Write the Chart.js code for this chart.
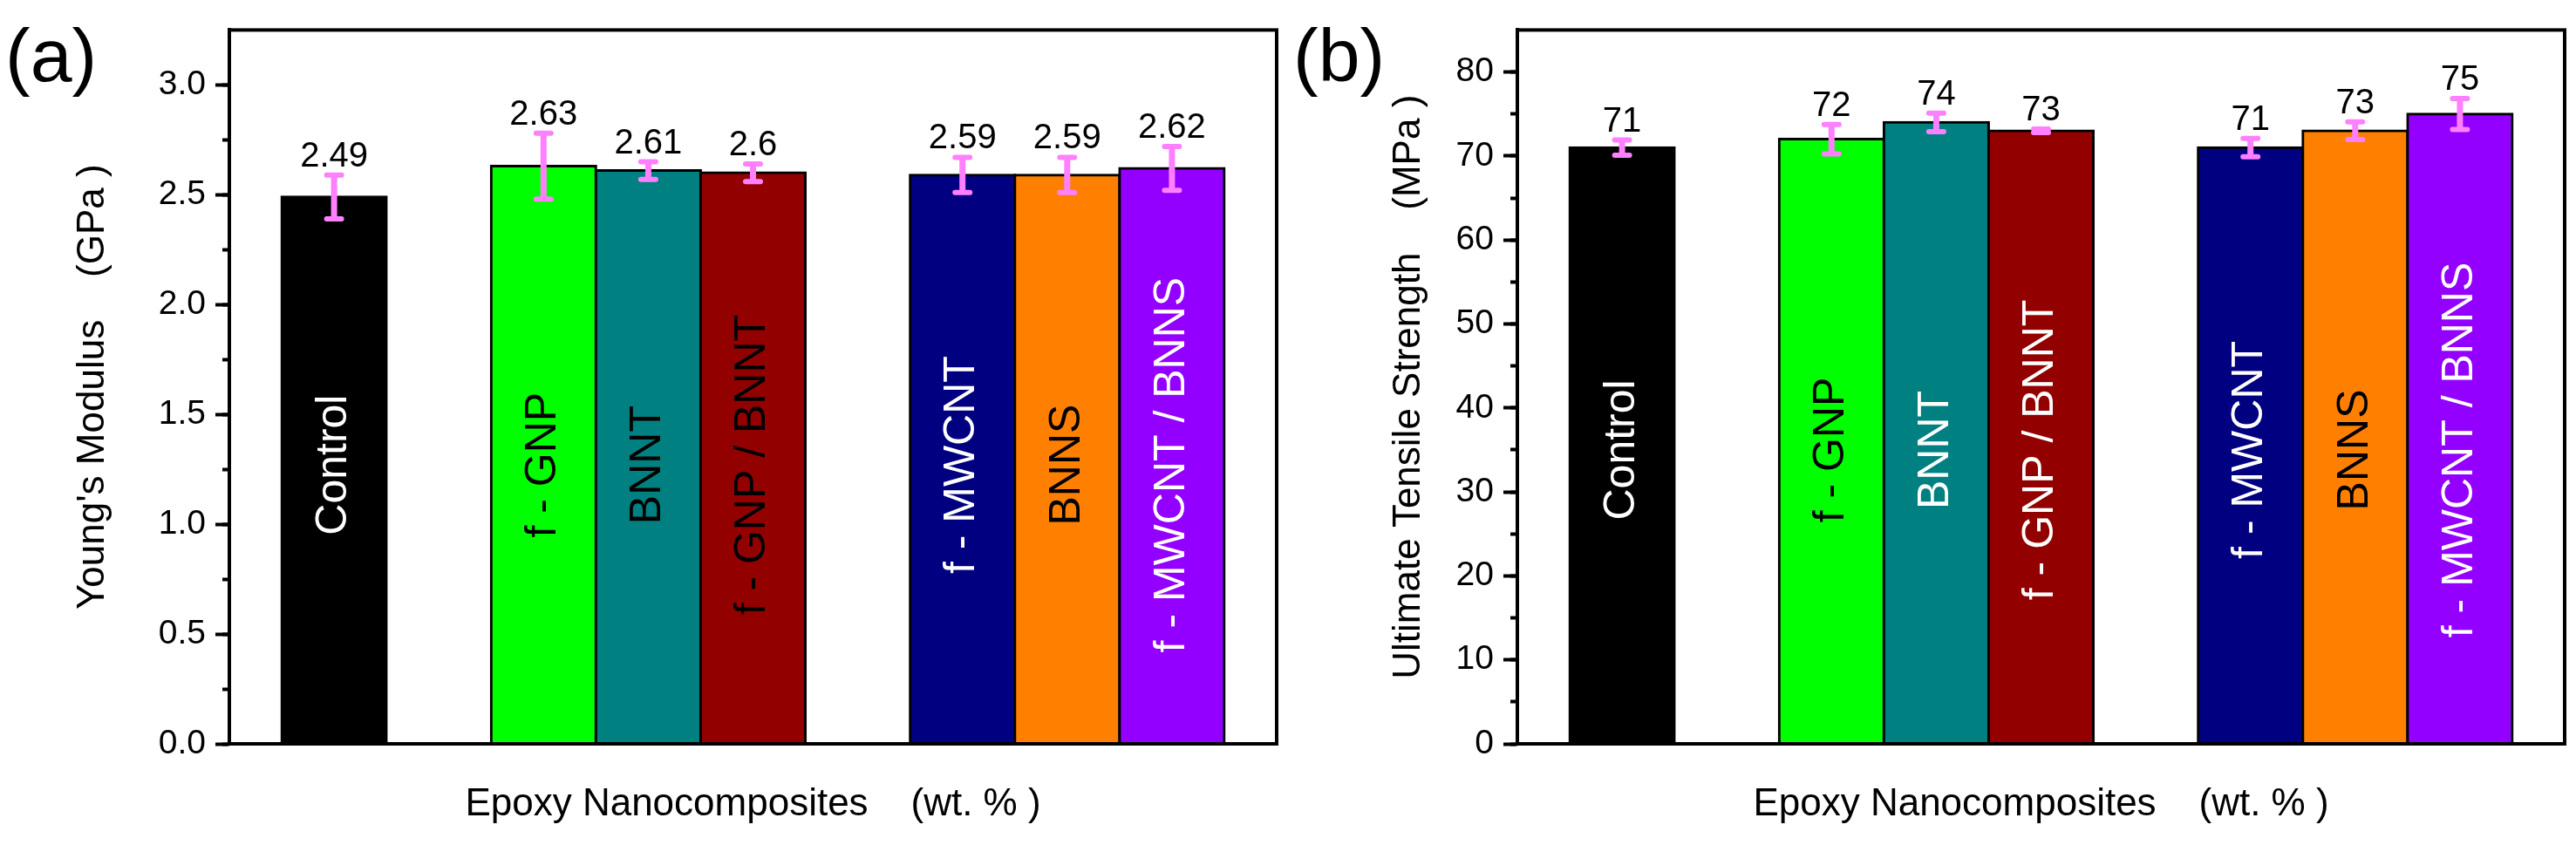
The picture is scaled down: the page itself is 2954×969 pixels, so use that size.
<!DOCTYPE html>
<html>
<head>
<meta charset="utf-8">
<title>Epoxy nanocomposites</title>
<script src="https://cdn.jsdelivr.net/npm/chart.js@4.4.1/dist/chart.umd.min.js"></script>
<style>
  html, body { margin: 0; padding: 0; background: #fff; }
  #wrap { display: flex; width: 2954px; height: 969px; }
  canvas { display: block; }
</style>
</head>
<body>
<div id="wrap">
  <canvas id="modulus" width="1477" height="969"></canvas>
  <canvas id="strength" width="1477" height="969"></canvas>
</div>
<script>
const FONT = 'Arial, "Liberation Sans", sans-serif';

// x slots, '' = empty gap between the groups
const slotLabels = ['', 'Control', '', 'f - GNP', 'BNNT', 'f - GNP / BNNT', '', 'f - MWCNT', 'BNNS', 'f - MWCNT / BNNS', ''];
const barColors = ['#000000', '#00ff00', '#008080', '#930000', '#000080', '#ff8000', '#9300ff'];

// (a) Young's modulus, GPa
const modulus = [2.49, 2.63, 2.61, 2.60, 2.59, 2.59, 2.62];
const modulusErr = [0.10, 0.15, 0.04, 0.04, 0.08, 0.08, 0.10];
const modulusTicks = ['0.0', '0.5', '1.0', '1.5', '2.0', '2.5', '3.0'];
const modulusText = ['#fff', '#000', '#000', '#000', '#fff', '#000', '#fff'];

// (b) ultimate tensile strength, MPa
const strength = [71, 72, 74, 73, 71, 73, 75];
const strengthErr = [0.9, 1.75, 1.1, 0.2, 1.1, 1.05, 1.85];
const strengthTicks = ['0', '10', '20', '30', '40', '50', '60', '70', '80'];
const strengthText = ['#fff', '#000', '#fff', '#fff', '#fff', '#000', '#fff'];

function toSlots(arr) {
  let k = 0;
  return slotLabels.map(s => (s === '' ? null : arr[k++]));
}

function makeDecor(cfg) {
  return {
    id: 'decor' + cfg.panel,
    afterDatasetsDraw(chart) {
      const { ctx, chartArea } = chart;
      const y = chart.scales.y;
      const bars = chart.getDatasetMeta(0).data;
      const vals = toSlots(cfg.values);
      const errs = toSlots(cfg.errors);
      const cols = toSlots(cfg.textColors);

      ctx.save();
      vals.forEach((v, i) => {
        if (v === null) return;
        const x = bars[i].x;

        // name inside the bar
        ctx.save();
        ctx.translate(x, y.getPixelForValue(cfg.labelAt));
        ctx.rotate(-Math.PI / 2);
        ctx.font = '50px ' + FONT;
        ctx.fillStyle = cols[i];
        ctx.textAlign = 'center';
        ctx.textBaseline = 'middle';
        ctx.fillText(slotLabels[i], 0, 0);
        ctx.restore();

        // error bar
        const yTop = y.getPixelForValue(v + errs[i]);
        const yBot = y.getPixelForValue(v - errs[i]);
        ctx.strokeStyle = '#ff80ff';
        ctx.lineWidth = 7;
        ctx.lineCap = 'butt';
        ctx.beginPath();
        ctx.moveTo(x, yTop);
        ctx.lineTo(x, yBot);
        ctx.stroke();
        ctx.lineWidth = 6;
        ctx.lineCap = 'round';
        ctx.beginPath();
        ctx.moveTo(x - 8.5, yTop); ctx.lineTo(x + 8.5, yTop);
        ctx.moveTo(x - 8.5, yBot); ctx.lineTo(x + 8.5, yBot);
        ctx.stroke();

        // value on top
        ctx.font = '40px ' + FONT;
        ctx.fillStyle = '#000';
        ctx.textAlign = 'center';
        ctx.textBaseline = 'alphabetic';
        ctx.fillText(String(v), x, yTop - 10);
      });

      // frame
      ctx.strokeStyle = '#000';
      ctx.lineWidth = 4;
      ctx.strokeRect(chartArea.left, chartArea.top, chartArea.right - chartArea.left, chartArea.bottom - chartArea.top);
      ctx.restore();
    },
    afterDraw(chart) {
      const ctx = chart.ctx;
      ctx.save();
      ctx.font = '86px ' + FONT;
      ctx.fillStyle = '#000';
      ctx.textAlign = 'left';
      ctx.textBaseline = 'alphabetic';
      ctx.fillText(cfg.panel, 6, 93);
      ctx.restore();
    }
  };
}

function makeChart(id, cfg) {
  return new Chart(document.getElementById(id), {
    type: 'bar',
    data: {
      labels: slotLabels,
      datasets: [{
        data: toSlots(cfg.values),
        backgroundColor: toSlots(barColors),
        borderColor: '#000',
        borderWidth: 3,
        inflateAmount: 1.5,
        barPercentage: 1,
        categoryPercentage: 1
      }]
    },
    options: {
      responsive: false,
      animation: false,
      devicePixelRatio: 1,
      layout: { padding: { left: 0, right: 13, top: 18, bottom: 0 } },
      plugins: { legend: { display: false }, tooltip: { enabled: false } },
      scales: {
        x: {
          type: 'category',
          offset: false,
          grid: { display: false },
          ticks: { display: false },
          border: { display: true, color: '#000', width: 4 },
          title: {
            display: true,
            text: 'Epoxy Nanocomposites    (wt. % )',
            color: '#000',
            font: { family: FONT, size: 44 },
            padding: { top: 0, bottom: 20 }
          },
          afterFit: s => { s.height = 116; }
        },
        y: {
          position: 'left',
          weight: 1,
          min: 0,
          max: cfg.max,
          afterBuildTicks: s => { s.ticks = cfg.ticks.map(t => ({ value: parseFloat(t) })); },
          ticks: {
            callback: (v, i) => cfg.ticks[i],
            color: '#000',
            font: { family: FONT, size: 39 },
            padding: 11
          },
          grid: { drawOnChartArea: false, tickLength: 16, tickWidth: 4, tickColor: '#000' },
          border: { color: '#000', width: 4 },
          title: {
            display: true,
            text: cfg.title,
            color: '#000',
            font: { family: FONT, size: 44 },
            padding: { top: cfg.titlePad, bottom: 0 }
          },
          afterFit: s => { s.width = 263; }
        },
        yMinor: {
          position: 'left',
          weight: 0,
          min: 0,
          max: cfg.max,
          ticks: { display: false, stepSize: cfg.minorStep },
          grid: {
            drawOnChartArea: false,
            tickLength: 8,
            tickWidth: 4,
            tickColor: c => (c.tick && c.tick.value >= cfg.max ? 'rgba(0,0,0,0)' : '#000')
          },
          border: { display: false },
          afterFit: s => { s.width = 0; }
        }
      }
    },
    plugins: [makeDecor(cfg)]
  });
}

makeChart('modulus', {
  panel: '(a)',
  values: modulus,
  errors: modulusErr,
  textColors: modulusText,
  ticks: modulusTicks,
  max: 3.25,
  minorStep: 0.25,
  labelAt: 1.27,
  title: "Young's Modulus    (GPa )",
  titlePad: 80
});

makeChart('strength', {
  panel: '(b)',
  values: strength,
  errors: strengthErr,
  textColors: strengthText,
  ticks: strengthTicks,
  max: 85,
  minorStep: 5,
  labelAt: 35,
  title: 'Ultimate Tensile Strength    (MPa )',
  titlePad: 112
});
</script>
</body>
</html>
